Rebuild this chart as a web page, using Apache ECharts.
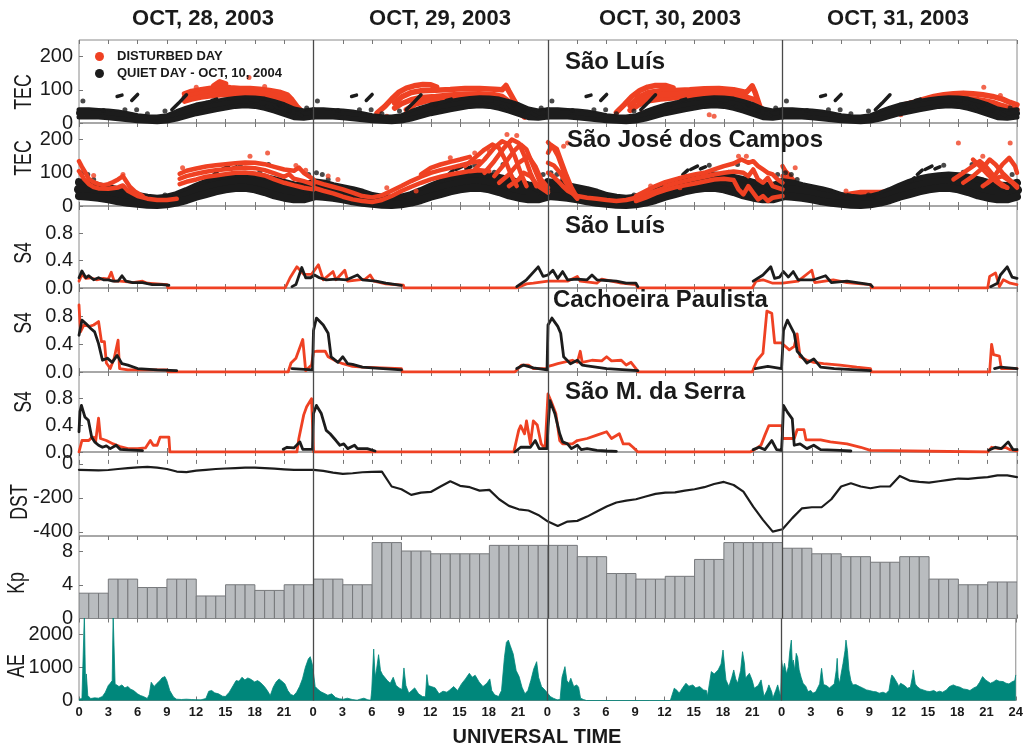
<!DOCTYPE html>
<html><head><meta charset="utf-8">
<script src="https://cdn.jsdelivr.net/npm/echarts@6/dist/echarts.min.js"></script>
<style>html,body{margin:0;padding:0;background:#fff}#c{width:1026px;height:750px}</style>
</head><body><div id="c"></div>
<script>
// ---------------- DATA ----------------
const DAYS = ['OCT, 28, 2003', 'OCT, 29, 2003', 'OCT, 30, 2003', 'OCT, 31, 2003'];
const DAY_BOUNDARIES = [24, 48, 72];
const STATIONS = ['São Luís', 'São José dos Campos', 'São Luís', 'Cachoeira Paulista', 'São M. da Serra'];
const Y_NAMES = ['TEC', 'TEC', 'S4', 'S4', 'S4', 'DST', 'Kp', 'AE'];
const TEC_TICKS = [0, 100, 200];
const S4_TICKS = [0, 0.4, 0.8];
const DST_TICKS = [-400, -200, 0];
const KP_TICKS = [0, 4, 8];
const AE_TICKS = [0, 1000, 2000];
const HOURS = [0,1,2,3,4,5,6,7,8,9,10,11,12,13,14,15,16,17,18,19,20,21,22,23,24];

// quiet day (Oct 10, 2004) TEC, same curve shown in every day column
const quietSLHi  = [40,40,38,36,33,28,22,19,18,22,34,45,54,60,65,70,74,76,75,72,64,55,42,36,40];
const quietSLMid = [30,30,29,27,24,20,15,12,11,14,22,32,40,47,53,58,62,64,63,58,50,40,30,26,29];
const quietSLLo  = [18,18,18,16,13,10,7,5,4,6,12,20,28,34,40,45,50,52,50,44,36,26,16,14,18];
const quietSLDashes = [
  [[3.9,80],[4.4,84]], [[5.4,68],[6.0,86]], [[9.5,40],[10.2,60],[11.0,85]],
  [[13.6,68],[14.1,72]], [[17.5,70],[18.3,66]], [[19.2,50],[19.8,46]], [[22.3,30],[22.8,22]]
];
const quietSLDots = [[0.4,66],[4.7,40],[5.9,40],[2.5,38],[8.8,36],[7.0,28],[12.5,55],[20.5,55],[23.3,45],[21.5,38]];

const quietSJCHi  = [72,68,60,54,48,40,30,25,22,25,33,45,58,70,80,86,90,92,90,85,78,70,62,60,70];
const quietSJCMid = [50,47,42,36,30,24,18,14,12,14,20,30,42,52,60,66,70,72,68,62,55,48,42,40,48];
const quietSJCLo  = [30,28,25,20,14,10,7,4,3,5,10,18,28,36,44,50,54,55,50,42,32,25,20,20,28];
const quietSJCDashes = [
  [[13.1,75],[13.5,85]], [[13.8,95],[14.3,108]], [[14.6,110],[15.3,120]], [[15.6,112],[16.1,118]],
  [[20.5,80],[21.2,70]], [[22.0,60],[23.0,45]]
];
const quietSJCDots = [[0.3,100],[0.9,95],[1.5,80],[8.8,33],[9.3,30],[16.5,123],[19.4,125],[23.5,95],[18.5,102]];

// disturbed days TEC, São Luís (tracks in local hours of each day)
const slRed28 = [
  [[10.8,88],[11.5,95],[12.5,100],[13.5,105],[14.5,110],[15.5,106],[16.5,104],[17.5,104],[18.5,102],[19.5,98],[20.5,93],[21.3,85],[21.8,70],[22.3,50],[22.8,35]],
  [[10.8,77],[11.5,84],[12.5,89],[13.5,94],[14.5,97],[15.5,96],[16.5,94],[17.5,93],[18.5,90],[19.5,86],[20.5,80],[21.3,70],[21.8,56],[22.3,40],[22.8,28]],
  [[10.8,66],[11.5,72],[12.5,78],[13.5,82],[14.5,85],[15.5,85],[16.5,83],[17.5,82],[18.5,78],[19.5,74],[20.5,66],[21.3,55],[21.8,42],[22.3,30],[22.8,22]],
  [[13.8,112],[14.4,124],[15.0,118]]
];
const slRedDots28 = [[17.4,137],[12,108],[19,110]];
const slRed29 = [
  [[6.5,30],[7.3,50],[8.0,72],[8.7,92],[9.5,105],[10.3,112],[11.2,116],[12.0,115],[12.6,108]],
  [[8.3,60],[9.0,78],[10.0,92],[11.0,97],[12.5,99],[14.0,101],[15.5,104],[17.0,104],[18.5,102],[19.3,100],[19.7,113],[20.0,96],[20.5,70],[21.0,45],[21.6,25]],
  [[8.3,45],[9.0,58],[10.0,70],[11.0,77],[12.5,80],[14.0,84],[15.5,87],[17.0,88],[18.5,85],[19.3,80],[20.0,65],[20.5,48],[21.0,32],[21.6,18]],
  [[9.5,40],[10.5,58],[11.5,66],[13,70],[14.5,74],[16,76],[17.5,74],[19,68],[20,52],[20.6,35]]
];
const slRedDots29 = [[10.5,38],[11.6,40],[12.4,35],[7.5,20],[20.8,30]];
const slRed30 = [
  [[7.0,32],[7.8,55],[8.6,80],[9.4,98],[10.2,108],[11.0,113],[12.0,113],[12.8,106]],
  [[8.4,52],[9.3,78],[10.3,92],[11.5,97],[13.0,98],[14.5,100],[16.0,103],[17.5,104],[19.0,100],[20.3,92],[20.9,112],[21.2,92],[21.7,48],[22.3,32],[23.0,22]],
  [[8.4,38],[9.3,55],[10.3,67],[11.5,72],[13.0,76],[14.5,79],[16.0,82],[17.5,82],[19.0,76],[20.3,64],[21.2,48],[21.7,32],[22.3,22],[23.0,18]],
  [[9.3,66],[10.3,80],[11.5,85],[13,87],[14.5,90],[16,92],[17.5,93],[19,88],[20.3,78],[21.2,70],[21.7,40]]
];
const slRedDots30 = [[9.6,30],[10.6,40],[11.4,35],[16.5,25],[17,20]];
const slRed31 = [
  [[11.5,45],[12.5,55],[13.5,63],[14.5,72],[15.5,80],[16.5,85],[17.5,88],[18.5,90],[19.5,88],[20.5,85],[21.5,80],[22.5,72],[23.3,62],[24,55]],
  [[11.5,35],[12.5,43],[13.5,52],[14.5,60],[15.5,66],[16.5,70],[17.5,73],[18.5,73],[19.5,72],[20.5,68],[21.5,62],[22.5,52],[23.3,45],[24,40]]
];
const slRedDots31 = [[20.6,108],[22.3,83],[12.1,25],[9.2,12]];

// disturbed days TEC, São José dos Campos
const sjcRed28 = [
  [[0,135],[0.3,118],[0.7,98],[1.0,82],[1.5,72],[2.0,66],[2.5,63],[3.0,66],[3.5,72],[4.0,80],[4.5,90],[4.8,76],[5.2,58],[5.8,42],[6.5,30]],
  [[0,105],[0.5,82],[1.0,66],[1.5,57],[2.0,53],[3.0,52],[4.0,56],[4.5,62],[5.0,46],[6.0,30],[7.0,22],[8.0,18],[9.0,18],[10.0,22]],
  [[10.3,97],[11,106],[12,113],[13,119],[14,123],[15,126],[16,129],[17,131],[18,130],[19,126],[20,118],[21,110],[22,106],[22.5,116],[23,100],[23.5,90],[24,80]],
  [[10.3,82],[11,90],[12,97],[13,103],[14,108],[15,111],[16,114],[17,116],[18,114],[19,108],[20,98],[21,88],[21.5,96],[22,82],[23,75],[24,65]],
  [[10.3,66],[11,73],[12,80],[13,88],[14,92],[15,96],[16,100],[17,101],[18,98],[19,92],[20,80],[21,70],[22,62],[23,55],[24,50]]
];
const sjcRedDots28 = [[10.6,115],[17.5,150],[19.3,160],[22.2,122],[23.2,108],[1.5,92],[4.5,95]];
const sjcRed29 = [
  [[0,75],[1,66],[2,58],[3,50],[4,40],[5,30],[6,26],[7,32],[8,46],[9,60],[10,75],[11,88],[12,100],[13,108],[14,115],[15,122],[16,130],[17,135]],
  [[0,55],[1,46],[2,38],[3,28],[4,20],[5,15],[6,12],[7,18],[8,30],[9,45],[10,58],[11,70],[12,80],[13,88],[14,95],[15,100],[16,105],[17,108],[18,105]],
  [[11,95],[12,115],[13,125],[14,133],[15,140],[16,148]],
  [[15.5,120],[16.5,145],[17.5,170],[18.3,185],[19,175],[19.6,140],[20.2,95],[20.8,60]],
  [[16.5,110],[17.5,140],[18.5,175],[19.3,195],[20,185],[20.6,150],[21.2,100],[21.8,60]],
  [[17.5,100],[18.5,135],[19.5,175],[20.3,200],[21,190],[21.6,150],[22.2,100],[22.8,60]],
  [[18.5,90],[19.5,125],[20.5,165],[21.2,185],[21.8,170],[22.5,120],[23.2,70],[24,45]],
  [[19,70],[20,95],[21,130],[22,150],[22.7,120],[23.3,80],[24,55]],
  [[20,60],[21,80],[21.5,100],[22.2,90],[23,60],[24,40]]
];
const sjcRedDots29 = [[1.5,90],[2.5,80],[7.5,55],[10.5,45],[14,145],[19.8,215],[20.8,212],[18,165],[16.5,160]];
const sjcRed30 = [
  [[0,192],[0.5,178],[1,152],[1.5,112],[2,72],[2.5,42],[3,25]],
  [[0,160],[0.4,182],[0.9,172],[1.4,132],[1.9,92],[2.4,56],[2.9,30]],
  [[0,130],[0.6,122],[1.2,102],[1.8,72],[2.4,42],[3,22]],
  [[0,100],[0.5,90],[1,76],[1.5,60],[2,46],[3,30],[4,25],[5,22],[6,18],[7,15],[8,18],[9,25],[10,35],[11,45],[12,55]],
  [[9,30],[10,45],[11,60],[12,72],[13,80],[14,88],[15,95],[16,100],[17,110],[18,120],[19,128],[19.8,140],[20.5,130],[21,135],[21.5,120],[22,110],[22.5,100],[23,95],[23.5,80],[24,70]],
  [[12,60],[13,68],[14,75],[15,82],[16,88],[17,95],[18,100],[19,104],[20,100],[20.5,90],[21,110],[21.5,80],[22,70],[22.5,85],[23,60],[24,50]],
  [[9,15],[10,25],[11,38],[12,48],[13,56],[14,62],[15,68],[16,74],[17,80],[18,82],[19,78],[19.5,50],[20,35],[20.5,60],[21,40],[21.5,20],[22,30],[22.5,15],[23,25],[24,30]]
];
const sjcRedDots30 = [[1.6,180],[2,190],[10.5,60],[13.5,55],[19.5,150],[20.3,150]];
const sjcRed31 = [
  [[0,120],[0.3,105],[0.8,90],[1.3,70],[2,50]],
  [[0,90],[0.5,85],[1,75],[1.5,60],[2,45],[3,35],[4,30],[5,28],[6,32],[7,38],[8,42],[9,42],[10,42],[11,45],[12,50],[13,55],[14,60],[15,62],[16,68],[17,75],[18,82]],
  [[0,70],[0.5,65],[1,55],[2,40],[3,28],[4,22],[5,20],[6,22],[7,30],[8,35],[9,35],[10,35],[11,38],[12,42],[13,45],[14,48],[15,50],[16,55],[17,60],[18,65]],
  [[17.5,80],[18.5,100],[19.5,120],[20.2,135],[20.8,120],[21.5,95],[22.2,70],[23,55]],
  [[18.5,70],[19.5,90],[20.5,115],[21.2,140],[21.8,125],[22.5,100],[23.2,80],[24,60]],
  [[19.5,140],[20.2,120],[21,95],[21.8,75],[22.5,60],[23,55]],
  [[21,70],[21.8,95],[22.5,125],[23.2,145],[23.8,120],[24,100]],
  [[20.5,60],[21.5,80],[22.5,90],[23.5,70],[24,55]]
];
const sjcRedDots31 = [[18,190],[23.3,190],[1.3,115],[6.5,45],[20.5,150]];

// S4 (absolute UT hours from Oct 28 00 UT; null = no data)
const s4SLBlack = [[0,0.15],[0.3,0.25],[0.7,0.15],[1,0.18],[1.5,0.12],[2,0.15],[2.5,0.12],[3,0.12],[3.5,0.1],[4,0.1],[4.4,0.18],[4.8,0.1],[5.5,0.08],[6.5,0.08],[7.5,0.05],[8.5,0.05],[9.2,0.04],[9.3,null],
  [21.8,0.02],[22.2,0.05],[22.8,0.3],[23.2,0.15],[23.7,0.15],[24.1,0.19],[24.6,0.15],[25.3,0.12],[26.3,0.13],[27.4,0.12],[28.5,0.19],[29,0.12],[30.4,0.1],[31.4,0.07],[33,0.04],[33.1,null],
  [44.8,0.02],[45.8,0.12],[47,0.31],[47.5,0.17],[48,0.19],[48.5,0.26],[49,0.14],[49.5,0.24],[50,0.12],[51,0.13],[52,0.12],[52.5,0.19],[53,0.12],[54,0.11],[55,0.1],[56,0.07],[57,0.07],[57.2,0.02],[57.3,null],
  [69,0.1],[70,0.19],[70.8,0.31],[71.2,0.14],[71.7,0.16],[72.1,0.24],[72.6,0.16],[73.1,0.24],[73.6,0.12],[75.2,0.12],[76.4,0.18],[77,0.08],[78.6,0.1],[81,0.05],[81.2,0.02],[81.3,null],
  [93.3,0.02],[94,0.07],[94.3,0.19],[95,0.31],[95.5,0.16],[96,0.14]];
const s4SLRed = [[0,0.1],[0.3,0.2],[0.7,0.14],[1.2,0.15],[1.8,0.12],[2.5,0.14],[3.0,0.13],[3.3,0.23],[3.6,0.1],[4.2,0.1],[5,0.09],[5.5,0.08],[6.5,0.1],[7,0.07],[8,0.06],[9,0.05],[9.1,0],[21.1,0],[21.6,0.15],[22.3,0.31],[22.7,0.25],[23,0.2],[23.8,0.2],
  [24,0.24],[24.5,0.34],[25,0.12],[26,0.24],[26.3,0.12],[27.2,0.26],[27.5,0.1],[29.3,0.13],[29.8,0.19],[30.2,0.1],[31.4,0.06],[33.2,0.04],[33.3,0],[44.8,0],[45.8,0.06],[46.5,0.07],
  [48,0.1],[49,0.1],[50,0.1],[51,0.17],[51.3,0.1],[53,0.07],[53.5,0.13],[54.5,0.1],[55.5,0.07],[57,0.05],[57.2,0],[68.9,0],[69.3,0.1],[70,0.12],[71,0.07],
  [72,0.07],[73.6,0.1],[75,0.26],[75.3,0.08],[77.2,0.12],[78.6,0.08],[81,0.05],[81.1,0],[93,0],[93.2,0.17],[93.8,0.22],[94.2,0.02],[94.6,0.12],[95.3,0.07],[96,0.05]];
const s4CPBlack = [[0,0.53],[0.3,0.75],[0.7,0.7],[1.2,0.63],[1.6,0.58],[2,0.41],[2.4,0.17],[2.9,0.2],[3.4,0.14],[3.9,0.24],[4.4,0.12],[5,0.1],[6,0.05],[8,0.03],[10,0.02],[10.1,null],
  [21.8,0.05],[22,0.03],[23.9,0.03],[24,0.6],[24.3,0.78],[25,0.68],[25.5,0.56],[25.8,0.22],[26.5,0.14],[27,0.22],[27.5,0.12],[28,0.11],[29,0.07],[30,0.06],[33,0.03],[33.1,null],
  [44.8,0.05],[45.5,0.1],[46.5,0.06],[47.9,0.03],[48,0.68],[48.4,0.78],[49,0.66],[49.3,0.56],[49.6,0.22],[50.3,0.12],[51,0.17],[51.5,0.1],[52,0.09],[54,0.05],[57.2,0.02],[57.3,null],
  [69.2,0.05],[70.5,0.08],[71.9,0.05],[72,0.3],[72.1,0.6],[72.5,0.75],[73.2,0.56],[73.5,0.3],[74,0.22],[74.5,0.13],[75.2,0.19],[75.9,0.07],[77.3,0.05],[81,0.02],[81.1,null],
  [93.7,0.05],[94.3,0.07],[96,0.05]];
const s4CPRed = [[0,0.97],[0.15,0.58],[0.5,0.68],[1.1,0.66],[1.5,0.68],[2.0,0.73],[2.3,0.44],[2.6,0.44],[2.8,0.13],[3.2,0.05],[3.6,0.2],[4.0,0.46],[4.15,0.05],[5,0.03],[9,0.03],[9.1,0],[21.4,0],[21.7,0.13],[22.2,0.2],[22.9,0.47],[23.2,0.02],[23.8,0.1],
  [24,0.29],[24.3,0.3],[25.2,0.3],[25.5,0.22],[26.3,0.16],[27,0.12],[28,0.08],[29,0.07],[33,0.05],[33.1,0],[44.6,0],[45.3,0.1],[46,0.1],[46.5,0.05],[47.9,0.05],
  [48,0.08],[48.5,0.1],[49,0.12],[50.5,0.17],[51,0.14],[51.3,0.3],[51.5,0.14],[52.5,0.17],[53.5,0.16],[54,0.22],[54.5,0.16],[55.5,0.17],[56,0.1],[56.5,0.14],[57,0.05],[57.2,0],[68.9,0],[69.4,0.17],[70,0.27],[70.4,0.88],[70.9,0.85],[71.2,0.42],[71.9,0.42],
  [72,0.42],[72.7,0.32],[73.2,0.37],[73.5,0.55],[73.8,0.22],[74.5,0.17],[75.2,0.14],[76.2,0.12],[77.9,0.1],[79.6,0.07],[81,0.05],[81.1,0],[93.2,0],[93.4,0.4],[93.6,0.25],[94.2,0.23],[94.4,0.05],[96,0.05]];
const s4SMSBlack = [[0,0.3],[0.1,0.6],[0.25,0.69],[0.6,0.52],[0.96,0.47],[1.3,0.22],[1.6,0.15],[2,0.1],[2.4,0.07],[2.8,0.09],[3.2,0.05],[3.8,0.1],[4.2,0.04],[5,0.03],[6.5,0.02],[6.6,null],
  [20.9,0.04],[21.3,0.07],[22,0.06],[22.6,0.15],[22.9,0.04],[23.9,0.04],[24,0.57],[24.3,0.69],[24.8,0.57],[25.3,0.32],[25.7,0.27],[26.3,0.17],[26.7,0.1],[27.1,0.12],[27.5,0.05],[28.2,0.1],[28.5,0.05],[29.5,0.05],[30.3,0.015],[30.4,null],
  [44.6,0],[45.2,0.07],[46.2,0.07],[46.7,0.17],[47.1,0.05],[47.9,0.05],[48,0.37],[48.2,0.76],[48.7,0.57],[49.2,0.27],[49.5,0.15],[50,0.12],[50.4,0.05],[51,0.1],[51.4,0.035],[52,0.05],[53,0.025],[54,0.015],[55,0.01],[55.1,null],
  [69,0.035],[69.6,0.07],[70.2,0.035],[70.9,0.17],[71.4,0.035],[71.9,0.025],[72,0.3],[72.1,0.69],[72.5,0.59],[73,0.49],[73.2,0.1],[73.8,0.12],[74.5,0.05],[75.2,0.1],[75.9,0.035],[77.9,0.025],[79,0.015],[79.1,null],
  [93.1,0.025],[93.8,0.07],[94.4,0.05],[95.1,0.15],[95.6,0.035],[96,0.035]];
const s4SMSRed = [[0,0],[0.3,0.17],[0.6,0.17],[1,0.17],[1.2,0.2],[1.5,0.22],[1.7,0.15],[2.0,0.5],[2.2,0.2],[2.8,0.17],[3.5,0.12],[4.2,0.08],[5,0.05],[6,0.05],[6.8,0.06],[7.3,0.17],[7.6,0.1],[8.0,0.1],[8.3,0.22],[9.2,0.22],[9.3,0],[22.3,0],[22.5,0.2],[23.0,0.55],[23.3,0.67],[23.8,0.79],[24,0.8],
  [24.01,0],[44.5,0],[45,0.32],[45.2,0.39],[45.6,0.27],[45.8,0.46],[46.2,0.12],[46.5,0.46],[46.9,0.4],[47.3,0.12],[47.7,0.05],[47.9,0.07],
  [48,0.86],[48.3,0.76],[48.8,0.57],[49.2,0.17],[49.5,0.12],[50.5,0.12],[51,0.17],[52,0.2],[53,0.25],[54,0.3],[54.5,0.2],[55.3,0.27],[55.7,0.12],[56.3,0.12],[56.7,0.07],[57.2,0],[68.7,0],[69.3,0.05],[69.8,0.1],[70.2,0.25],[70.6,0.39],[71.95,0.39],
  [72,0.2],[73.2,0.2],[73.5,0.33],[74.2,0.33],[74.4,0.18],[75.9,0.18],[76.9,0.15],[78.6,0.12],[80,0.07],[81,0.025],[81.1,0],[93,0],[93.4,0.07],[94.2,0.05],[94.8,0.07],[95.3,0.035],[96,0.015]];

// Dst, hourly from Oct 28 00 UT to Nov 01 00 UT
const dstValues = [
  -35,-37,-38,-36,-30,-25,-20,-18,-22,-30,-45,-48,-40,-35,-30,-27,-25,-22,-22,-25,-28,-32,-35,-35,
  -35,-41,-51,-59,-55,-49,-47,-45,-133,-149,-182,-169,-165,-133,-102,-129,-137,-157,-153,-208,-247,-267,-274,-300,
  -339,-365,-339,-335,-310,-280,-251,-227,-216,-208,-192,-176,-169,-167,-157,-149,-137,-118,-106,-124,-163,-251,-329,-398,
  -384,-319,-261,-255,-255,-208,-133,-114,-133,-143,-133,-133,-71,-98,-106,-110,-102,-94,-86,-88,-82,-78,-67,-67,-78];

// Kp, 3-hourly
const kpValues = [3,4.67,3.67,4.67,2.67,4,3.33,4, 4.67,4,9,8,7.67,7.67,8.67,8.67, 8.67,7.33,5.33,4.67,5,7,9,9, 8.33,7.67,7.33,6.67,7.33,4.67,4,4.33];

// AE [UT hour, nT]
const aeData = [[0,40],[0.3,60],[0.5,50],[0.55,2600],[0.62,2600],[0.68,300],[0.75,800],[0.82,780],[0.9,150],[1.2,60],[1.6,80],[2.0,70],[2.4,120],[2.7,250],[3.0,450],[3.2,520],[3.4,600],[3.5,2600],[3.6,2600],[3.7,500],[3.9,540],[4.1,420],[4.4,470],[4.7,380],[5.0,420],[5.3,340],[5.6,300],[6.0,200],[6.3,150],[6.6,120],[7.0,60],[7.2,180],[7.4,550],[7.7,420],[8.0,520],[8.3,600],[8.5,680],[8.8,720],[9.0,600],[9.3,300],[9.7,100],[10.0,40],[10.5,30],[11,40],[11.5,30],[12,25],[12.5,20],[13.0,60],[13.3,280],[13.6,300],[13.9,230],[14.3,200],[14.7,130],[15.0,120],[15.4,250],[15.8,450],[16.1,600],[16.4,580],[16.7,700],[17.0,620],[17.3,680],[17.6,640],[18.0,560],[18.3,600],[18.6,540],[19.0,420],[19.3,300],[19.6,150],[19.9,400],[20.2,560],[20.5,650],[20.8,580],[21.1,500],[21.4,300],[21.7,180],[22.0,150],[22.3,250],[22.6,420],[22.9,650],[23.2,1000],[23.5,1250],[23.7,1320],[23.9,1100],
  [24.0,900],[24.2,420],[24.5,330],[24.8,260],[25.1,220],[25.5,160],[25.9,200],[26.3,90],[26.7,50],[27.1,40],[27.5,70],[28,30],[28.5,10],[28.8,40],[29.2,70],[29.6,20],[29.9,10],[30.0,320],[30.2,1550],[30.35,700],[30.5,950],[30.7,1380],[30.9,900],[31.1,780],[31.3,720],[31.6,600],[31.9,520],[32.2,700],[32.5,450],[32.8,380],[33.1,330],[33.3,980],[33.5,450],[33.8,220],[34.1,300],[34.4,380],[34.8,200],[35.2,120],[35.5,110],[35.65,780],[35.8,450],[36.1,420],[36.5,380],[36.9,200],[37.3,280],[37.7,250],[38.0,320],[38.4,420],[38.8,300],[39.2,500],[39.6,650],[40.0,820],[40.3,700],[40.6,760],[41.0,560],[41.4,420],[41.8,520],[42.1,650],[42.3,300],[42.6,170],[43.0,120],[43.3,300],[43.6,1300],[43.8,1750],[44.0,1820],[44.2,1650],[44.5,1400],[44.8,900],[45.1,720],[45.4,400],[45.7,200],[46.0,300],[46.3,600],[46.6,950],[46.9,1170],[47.1,700],[47.4,420],[47.8,300],
  [48.0,320],[48.3,120],[48.6,70],[49.0,20],[49.3,30],[49.5,700],[49.8,1020],[50.0,600],[50.2,520],[50.4,670],[50.7,420],[51.0,470],[51.2,400],[51.4,70],[51.7,30],[52.0,0],[58.5,0],[58.6,60],[58.7,0],[60.6,0],[60.8,40],[61.0,370],[61.3,300],[61.5,220],[61.9,400],[62.2,520],[62.5,430],[62.9,470],[63.2,380],[63.6,420],[64.0,320],[64.3,300],[64.4,120],[64.6,500],[64.8,870],[65.1,800],[65.5,920],[65.8,1100],[66.0,1520],[66.2,900],[66.3,620],[66.6,420],[66.9,700],[67.1,920],[67.3,650],[67.5,520],[67.8,900],[68.0,1470],[68.2,1100],[68.3,670],[68.7,820],[69.0,600],[69.2,370],[69.6,450],[69.9,620],[70.2,120],[70.5,300],[70.7,470],[71.0,250],[71.1,70],[71.4,300],[71.6,470],[71.9,120],
  [72.0,1220],[72.15,900],[72.3,1120],[72.5,800],[72.7,1020],[72.85,1500],[73.0,1820],[73.1,1100],[73.2,1220],[73.35,900],[73.5,1420],[73.65,1300],[73.8,920],[74.0,700],[74.2,520],[74.5,420],[74.7,270],[75.0,300],[75.2,220],[75.5,260],[75.7,320],[75.9,500],[76.1,970],[76.3,480],[76.6,450],[76.9,380],[77.1,420],[77.4,500],[77.6,900],[77.7,1270],[77.8,700],[77.95,520],[78.1,800],[78.3,1120],[78.5,1500],[78.6,1820],[78.75,1500],[78.9,920],[79.1,600],[79.3,470],[79.6,480],[80.0,420],[80.3,380],[80.7,320],[81.0,300],[81.4,270],[81.7,260],[82.0,220],[82.4,250],[82.7,210],[83.0,300],[83.2,650],[83.3,770],[83.5,700],[83.7,720],[83.9,500],[84.0,420],[84.2,520],[84.4,570],[84.6,450],[84.9,370],[85.2,400],[85.4,700],[85.5,920],[85.7,500],[85.9,420],[86.2,350],[86.5,320],[86.9,280],[87.2,270],[87.6,300],[87.9,250],[88.2,280],[88.5,250],[88.9,320],[89.2,420],[89.6,470],[89.9,430],[90.3,400],[90.6,350],[91.0,330],[91.3,300],[91.7,380],[92.0,420],[92.3,550],[92.6,720],[92.9,620],[93.1,600],[93.4,520],[93.7,560],[94.0,620],[94.3,580],[94.7,570],[95.0,520],[95.3,500],[95.6,560],[95.9,600],[96.0,770]];

// ---------------- CHART ----------------
const RED = '#ef4123', BLK = '#1c1c1c', TEAL = '#00877b';
const FONT = '"Liberation Sans", Arial, Helvetica, sans-serif';
const ROWS = [
  {top: 40, h: 83, min: 0, max: 250, ticks: TEC_TICKS},
  {top: 123, h: 83, min: 0, max: 250, ticks: TEC_TICKS},
  {top: 206, h: 82, min: 0, max: 1.2, ticks: S4_TICKS, s4: true},
  {top: 288, h: 84, min: 0, max: 1.215, ticks: S4_TICKS, s4: true},
  {top: 372, h: 80, min: 0, max: 1.185, ticks: S4_TICKS, s4: true},
  {top: 452, h: 84, min: -424, max: 70, ticks: DST_TICKS},
  {top: 536, h: 82.5, min: 0, max: 9.78, ticks: KP_TICKS},
  {top: 618.5, h: 82, min: 0, max: 2470, ticks: AE_TICKS}
];
const NAME_POS = [[24,92],[24,158],[24,253],[24,323],[24,402],[20,502],[17,583],[17,666]];
const STATION_POS = [[565,62],[567,140],[565,226],[553,300],[565,392]];
const TITLE_X = [203, 440, 670, 898];

const series = [];
const nz = v => (v === null ? '-' : v);
function addTrack(grid, day, pts, color, width, z, name) {
  series.push({type: 'line', name: name || ('t' + series.length), xAxisIndex: grid, yAxisIndex: grid, z: z,
    symbol: 'none', silent: true, animation: false,
    lineStyle: {color: color, width: width, cap: 'round', join: 'round'}, itemStyle: {color: color},
    data: pts.map(p => [p[0] + 24 * day, nz(p[1])])});
}
function addDots(grid, day, pts, color, size, z) {
  series.push({type: 'scatter', xAxisIndex: grid, yAxisIndex: grid, z: z, symbolSize: size, silent: true, animation: false,
    itemStyle: {color: color}, data: pts.map(p => [p[0] + 24 * day, p[1]])});
}

// TEC São Luís (row 0): red under black
const slRed = [slRed28, slRed29, slRed30, slRed31];
const slRedDots = [slRedDots28, slRedDots29, slRedDots30, slRedDots31];
for (let d = 0; d < 4; d++) {
  slRed[d].forEach((t, k) => addTrack(0, d, t, RED, 5.5, 1, (d === 0 && k === 0) ? 'DISTURBED DAY' : null));
  addDots(0, d, slRedDots[d], RED, 5, 1);
  addTrack(0, d, HOURS.map((h, i) => [h, quietSLHi[i]]), BLK, 5, 2, d === 0 ? 'QUIET DAY - OCT, 10, 2004' : null);
  addTrack(0, d, HOURS.map((h, i) => [h, quietSLMid[i]]), BLK, 6, 2);
  addTrack(0, d, HOURS.map((h, i) => [h, quietSLLo[i]]), BLK, 5, 2);
  quietSLDashes.forEach(t => addTrack(0, d, t, BLK, 3.5, 2));
  addDots(0, d, quietSLDots, BLK, 5, 2);
}
// TEC São José dos Campos (row 1)
const sjcRed = [sjcRed28, sjcRed29, sjcRed30, sjcRed31];
const sjcRedDots = [sjcRedDots28, sjcRedDots29, sjcRedDots30, sjcRedDots31];
for (let d = 0; d < 4; d++) {
  addTrack(1, d, HOURS.map((h, i) => [h, quietSJCHi[i]]), BLK, 8, 2);
  addTrack(1, d, HOURS.map((h, i) => [h, quietSJCMid[i]]), BLK, 10, 2);
  addTrack(1, d, HOURS.map((h, i) => [h, quietSJCLo[i]]), BLK, 8, 2);
  quietSJCDashes.forEach(t => addTrack(1, d, t, BLK, 3.5, 2));
  addDots(1, d, quietSJCDots, BLK, 5, 2);
  sjcRed[d].forEach((t, k) => addTrack(1, d, t, RED, 4.5, (d === 3 && k < 3) ? 1 : 3));
  addDots(1, d, sjcRedDots[d], RED, 5, 3);
}
// S4 rows
[[2, s4SLRed, s4SLBlack], [3, s4CPRed, s4CPBlack], [4, s4SMSRed, s4SMSBlack]].forEach(([g, r, b]) => {
  addTrack(g, 0, r, RED, 2.8, 2);
  addTrack(g, 0, b, BLK, 2.8, 3);
});
// Dst
addTrack(5, 0, dstValues.map((v, i) => [i, v]), BLK, 2.2, 2);
// Kp (hourly boxes of the 3-hourly index)
series.push({type: 'custom', xAxisIndex: 6, yAxisIndex: 6, silent: true, animation: false, clip: true,
  encode: {x: 0, y: 1},
  data: Array.from({length: 96}, (_, i) => [i, kpValues[Math.floor(i / 3)]]),
  renderItem: function (params, api) {
    const p0 = api.coord([api.value(0), api.value(1)]);
    const p1 = api.coord([api.value(0) + 1, 0]);
    return {type: 'rect', shape: {x: p0[0], y: p0[1], width: p1[0] - p0[0], height: p1[1] - p0[1]},
      style: {fill: '#b9bcbf', stroke: '#76787b', lineWidth: 1}};
  }});
// AE
series.push({type: 'line', xAxisIndex: 7, yAxisIndex: 7, symbol: 'none', silent: true, animation: false,
  lineStyle: {color: TEAL, width: 0.8}, areaStyle: {color: TEAL, opacity: 1}, data: aeData});
// day separators
ROWS.forEach((r, i) => series.push({type: 'line', xAxisIndex: i, yAxisIndex: i, data: [], z: 10, silent: true,
  markLine: {silent: true, symbol: 'none', animation: false, label: {show: false},
    lineStyle: {color: '#4a4a4a', width: 1.3, type: 'solid'},
    data: DAY_BOUNDARIES.map(v => ({xAxis: v}))}}));

const graphic = [];
DAYS.forEach((t, i) => graphic.push({type: 'text', x: TITLE_X[i], y: 19, style: {text: t, font: 'bold 22px ' + FONT, fill: '#1a1a1a', textAlign: 'center', textVerticalAlign: 'middle', align: 'center', verticalAlign: 'middle'}}));
STATIONS.forEach((t, i) => graphic.push({type: 'text', x: STATION_POS[i][0], y: STATION_POS[i][1], z: 20, style: {text: t, font: 'bold 24px ' + FONT, fill: '#1a1a1a', textAlign: 'left', textVerticalAlign: 'middle', align: 'left', verticalAlign: 'middle'}}));
Y_NAMES.forEach((t, i) => graphic.push({type: 'text', x: NAME_POS[i][0], y: NAME_POS[i][1], rotation: Math.PI / 2, scaleX: 0.74,
  style: {text: t, font: '24px ' + FONT, fill: '#1a1a1a', textAlign: 'center', textVerticalAlign: 'middle', align: 'center', verticalAlign: 'middle'}}));
graphic.push({type: 'text', x: 537, y: 737, style: {text: 'UNIVERSAL TIME', font: 'bold 20px ' + FONT, fill: '#1a1a1a', textAlign: 'center', textVerticalAlign: 'middle', align: 'center', verticalAlign: 'middle'}});

const xBottom = ROWS.map((r, i) => ({gridIndex: i, type: 'value', min: 0, max: 96, interval: 3, position: 'bottom',
  axisLine: {show: false}, splitLine: {show: false},
  axisTick: {show: true, inside: true, length: 4, lineStyle: {color: '#777'}},
  axisLabel: {show: i === 7, margin: 5, fontSize: 13, fontWeight: 'bold', color: '#1a1a1a', fontFamily: FONT,
    formatter: v => (v === 96 ? '24' : String(v % 24))}}));
const xTop = ROWS.map((r, i) => ({gridIndex: i, type: 'value', min: 0, max: 96, interval: 3, position: 'top',
  axisLine: {show: false}, splitLine: {show: false}, axisLabel: {show: false},
  axisTick: {show: true, inside: true, length: 4, lineStyle: {color: '#777'}}}));
const yAxes = ROWS.map((r, i) => ({gridIndex: i, type: 'value', min: r.min, max: r.max,
  axisLine: {show: false}, splitLine: {show: false},
  axisTick: {show: true, inside: true, length: 4, customValues: r.ticks, lineStyle: {color: '#777'}},
  axisLabel: {customValues: r.ticks, margin: 6, fontSize: 20, color: '#1a1a1a', fontFamily: FONT,
    formatter: v => (r.s4 ? Number(v).toFixed(1) : String(v))}}));

const chart = echarts.init(document.getElementById('c'), null, {renderer: 'canvas'});
chart.setOption({
  animation: false,
  backgroundColor: '#ffffff',
  textStyle: {fontFamily: FONT},
  grid: ROWS.map(r => ({left: 79, width: 938, top: r.top, height: r.h, show: true, borderColor: '#8a8a8a', borderWidth: 1, backgroundColor: 'transparent'})),
  xAxis: xBottom.concat(xTop),
  yAxis: yAxes,
  legend: {left: 90, top: 45, orient: 'vertical', itemWidth: 9, itemHeight: 9, itemGap: 4, selectedMode: false,
    data: [{name: 'DISTURBED DAY', icon: 'circle'}, {name: 'QUIET DAY - OCT, 10, 2004', icon: 'circle'}],
    textStyle: {fontWeight: 'bold', fontSize: 13, color: '#1a1a1a', fontFamily: FONT, padding: [0, 0, 0, 8]}},
  graphic: graphic,
  series: series
});
</script></body></html>
